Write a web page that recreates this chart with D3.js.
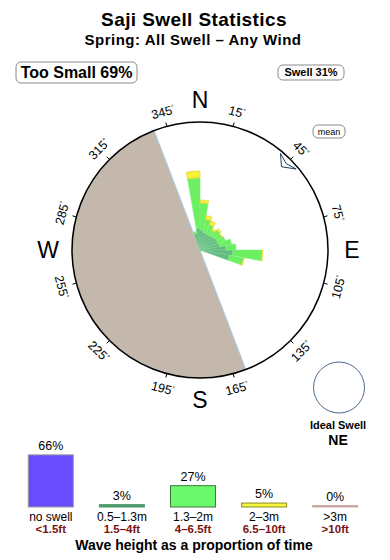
<!DOCTYPE html>
<html>
<head>
<meta charset="utf-8">
<script src="https://cdn.jsdelivr.net/npm/d3@7"></script>
<style>
  body { margin: 0; background: #fff; }
  svg { display: block; font-family: "Liberation Sans", Arial, Helvetica, sans-serif; }
</style>
</head>
<body>
<script>
// swell direction bins (deg, 10 deg wide) and % of time per height band
const directions = [340, 350, 0, 10, 20, 30, 40, 50, 60, 70, 80, 90, 100];
const band1 = [1.20, 1.55, 1.41, 1.27, 1.20, 1.20, 1.27, 1.34, 1.34, 1.41, 1.83, 2.32, 2.11]; // 0.5-1.3m
const band2 = [0.14, 3.52, 1.90, 0.92, 0.70, 0.42, 0.56, 0.42, 0.56, 0.85, 0.70, 2.04, 0.99]; // 1.3-2m
const band3 = [0.00, 0.49, 0.21, 0.28, 0.28, 0.14, 0.14, 0.07, 0.00, 0.00, 0.00, 0.07, 0.07]; // 2-3m

const tickAngles = [15, 45, 75, 105, 135, 165, 195, 225, 255, 285, 315, 345];
const cardinals = [['N', 0], ['E', 90], ['S', 180], ['W', 270]];
const shadow = [159, 339];   // land shadow, no swell from these bearings
const meanDir = 45;

const heightCats = ['no swell', '0.5–1.3m', '1.3–2m', '2–3m', '>3m'];
const heightFeet = ['<1.5ft', '1.5–4ft', '4–6.5ft', '6.5–10ft', '>10ft'];
const heightPct = [66, 3, 27, 5, 0];
const heightColor = ['#6a4cff', '#4e9a6c', '#6cf86c', '#f6f63c', '#c8aaa2'];
const heightStroke = ['#999', '#4e9a6c', '#3d7a3d', '#8a8a2a', '#c8aaa2'];

const tooSmall = 69;
const swellPct = 31;
const idealSwell = 'NE';

const width = 390;
const height = 560;
const cx = 200, cy = 250, R = 128;

const svg = d3.select('body').append('svg')
  .attr('width', width)
  .attr('height', height);

// titles
svg.append('text')
  .attr('x', 194).attr('y', 26)
  .attr('text-anchor', 'middle')
  .attr('font-size', 19).attr('font-weight', 'bold')
  .attr('letter-spacing', 0.4)
  .text('Saji Swell Statistics');

svg.append('text')
  .attr('x', 193).attr('y', 45)
  .attr('text-anchor', 'middle')
  .attr('font-size', 15).attr('font-weight', 'bold')
  .attr('letter-spacing', 0.5)
  .text('Spring: All Swell – Any Wind');

const badge = (x, y, w, h, size, weight, label) => {
  const g = svg.append('g');
  g.append('rect')
    .attr('x', x).attr('y', y).attr('width', w).attr('height', h)
    .attr('rx', 5).attr('fill', '#fff').attr('stroke', '#8a8a8a');
  g.append('text')
    .attr('x', x + w / 2).attr('y', y + h / 2)
    .attr('dy', '0.36em')
    .attr('text-anchor', 'middle')
    .attr('font-size', size).attr('font-weight', weight)
    .text(label);
};

badge(16, 62, 121, 21, 16, 'bold', `Too Small ${tooSmall}%`);
badge(278, 65, 66, 15, 11, 'bold', `Swell ${swellPct}%`);
badge(313, 125, 32, 13, 9, 'normal', 'mean');

// polar scales
const angle = d3.scaleLinear().domain([0, 360]).range([0, 2 * Math.PI]);
const radius = d3.scaleLinear().domain([0, 9]).range([0, R]);

const rose = svg.append('g').attr('transform', `translate(${cx},${cy})`);

rose.append('circle').attr('r', R).attr('fill', '#fff');

rose.append('path')
  .attr('d', d3.arc()({
    innerRadius: 0, outerRadius: R,
    startAngle: angle(shadow[0]), endAngle: angle(shadow[1])
  }))
  .attr('fill', '#c4b8ac');

const polar = (deg, r) => [r * Math.sin(angle(deg)), -r * Math.cos(angle(deg))];

rose.append('line')
  .attr('x1', polar(shadow[0], R)[0]).attr('y1', polar(shadow[0], R)[1])
  .attr('x2', polar(shadow[1], R)[0]).attr('y2', polar(shadow[1], R)[1])
  .attr('stroke', '#a9cdeb').attr('stroke-width', 1);

// petals
const rows = directions.map((d, i) => ({ dir: d, b1: band1[i], b2: band2[i], b3: band3[i] }));
const stack = d3.stack().keys(['b1', 'b2', 'b3'])(rows);
const petalColor = { b1: '#62bb80', b2: '#6cf062', b3: '#f2f236' };
const petalEdge = { b1: '#7fcf95', b2: '#88f27c', b3: '#e8c840' };

const arc = d3.arc()
  .innerRadius(d => radius(d[0]))
  .outerRadius(d => radius(d[1]))
  .startAngle(d => angle(d.data.dir))
  .endAngle(d => angle(d.data.dir + 10));

rose.selectAll('g.band')
  .data(stack)
  .join('g')
  .attr('class', 'band')
  .attr('fill', s => petalColor[s.key])
  .attr('stroke', s => petalEdge[s.key])
  .attr('stroke-width', 0.6)
  .selectAll('path')
  .data(s => s.filter(d => d[1] > d[0]))
  .join('path')
  .attr('d', arc);

// outer ring
rose.append('circle')
  .attr('r', R).attr('fill', 'none')
  .attr('stroke', '#000').attr('stroke-width', 1.5);

rose.selectAll('line.tick')
  .data(tickAngles)
  .join('line')
  .attr('class', 'tick')
  .attr('x1', d => polar(d, R)[0]).attr('y1', d => polar(d, R)[1])
  .attr('x2', d => polar(d, R + 4)[0]).attr('y2', d => polar(d, R + 4)[1])
  .attr('stroke', '#000');

const degLabels = rose.selectAll('text.deg')
  .data(tickAngles)
  .join('text')
  .attr('class', 'deg')
  .attr('transform', d => {
    const [x, y] = polar(d, 143);
    const rot = (d > 90 && d < 270) ? d - 180 : d;
    return `translate(${x},${y}) rotate(${rot})`;
  })
  .attr('text-anchor', 'middle')
  .attr('dy', '0.36em')
  .attr('font-size', 12.5);
degLabels.append('tspan').text(d => d);
degLabels.append('tspan').attr('font-size', 7).attr('dy', '-0.6em').text('°');

rose.selectAll('text.card')
  .data(cardinals)
  .join('text')
  .attr('class', 'card')
  .attr('x', d => polar(d[1], 152)[0])
  .attr('y', d => polar(d[1], 150)[1])
  .attr('dy', '0.36em')
  .attr('text-anchor', 'middle')
  .attr('font-size', 23)
  .text(d => d[0]);

// mean direction marker
const mean = [polar(meanDir - 5.2, 125.7), polar(meanDir - 0.6, 116.5),
  polar(meanDir + 4.9, 125.7), polar(meanDir, 122)];
rose.append('path')
  .attr('d', d3.line()(mean) + 'Z')
  .attr('fill', '#fff')
  .attr('stroke', '#23405f')
  .attr('stroke-width', 1);

// ideal swell
svg.append('circle')
  .attr('cx', 339).attr('cy', 387.5).attr('r', 25.5)
  .attr('fill', 'none').attr('stroke', '#4a6a90').attr('stroke-width', 1);
svg.append('text')
  .attr('x', 338).attr('y', 429)
  .attr('text-anchor', 'middle')
  .attr('font-size', 11).attr('font-weight', 'bold')
  .text('Ideal Swell');
svg.append('text')
  .attr('x', 338).attr('y', 445)
  .attr('text-anchor', 'middle')
  .attr('font-size', 14).attr('font-weight', 'bold')
  .text(idealSwell);

// wave height legend bars
const base = 507;
const bx = d3.scalePoint().domain(heightCats).range([50.8, 335.2]);
const by = d3.scaleLinear().domain([0, 100]).range([0, 79]);
const barW = 45;

const bars = svg.append('g').selectAll('g')
  .data(heightCats)
  .join('g')
  .attr('transform', d => `translate(${bx(d)},0)`);

bars.append('rect')
  .attr('x', -barW / 2)
  .attr('y', (d, i) => base - Math.max(by(heightPct[i]), 1.5))
  .attr('width', barW)
  .attr('height', (d, i) => Math.max(by(heightPct[i]), 1.5))
  .attr('fill', (d, i) => heightColor[i])
  .attr('stroke', (d, i) => heightStroke[i])
  .attr('stroke-width', 1);

bars.append('text')
  .attr('y', (d, i) => base - Math.max(by(heightPct[i]), 1.5) - 5)
  .attr('text-anchor', 'middle')
  .attr('font-size', 12.5)
  .text((d, i) => `${heightPct[i]}%`);

bars.append('text')
  .attr('y', 521)
  .attr('text-anchor', 'middle')
  .attr('font-size', 12)
  .text(d => d);

bars.append('text')
  .attr('y', 533)
  .attr('text-anchor', 'middle')
  .attr('font-size', 11.5).attr('font-weight', 'bold')
  .attr('fill', '#7a1212')
  .text((d, i) => heightFeet[i]);

svg.append('text')
  .attr('x', 194).attr('y', 549.5)
  .attr('text-anchor', 'middle')
  .attr('font-size', 14).attr('font-weight', 'bold')
  .text('Wave height as a proportion of time');
</script>
</body>
</html>
